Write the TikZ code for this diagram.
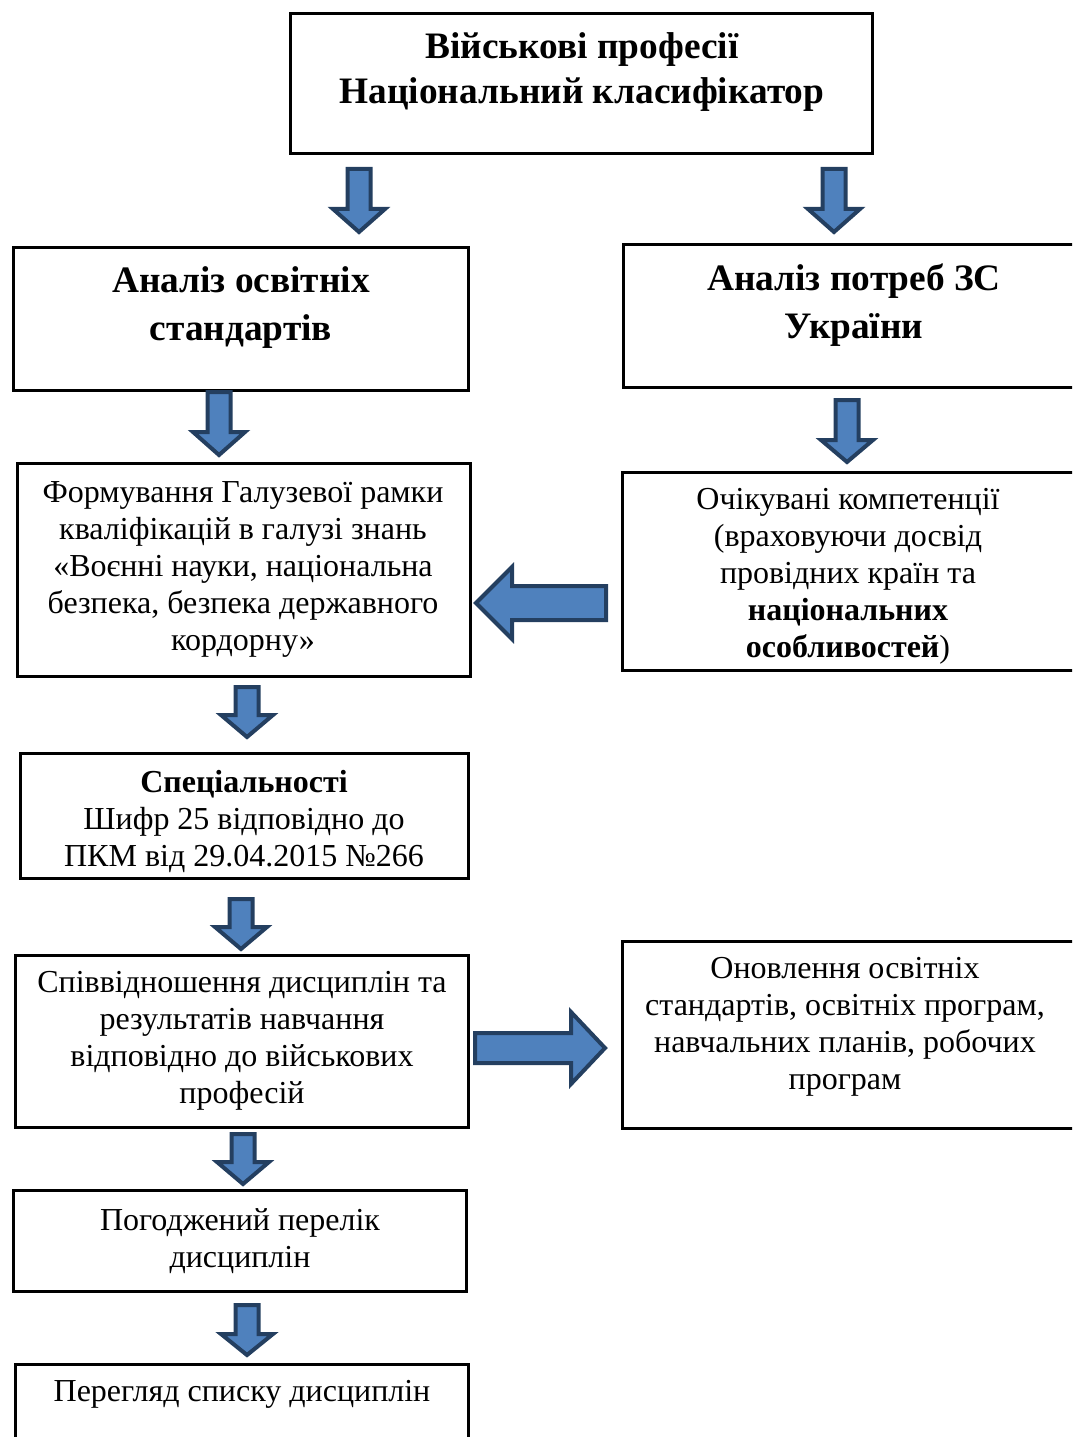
\documentclass[tikz,border=0pt]{standalone}
\usepackage{fontspec}
\setmainfont{Liberation Serif}
\usetikzlibrary{calc}
\definecolor{arrfill}{HTML}{4F81BD}
\definecolor{arrline}{HTML}{243F60}
\tikzset{
  box/.style={draw=black, line width=2.25pt, inner sep=0pt, outer sep=0pt, fill=white},
  txt/.style={align=center, inner sep=0pt, font=\fontsize{24}{27.75}\selectfont},
  hd/.style={align=center, inner sep=0pt, font=\fontsize{28}{36}\selectfont\bfseries},
  blockarrow/.style={draw=arrline, fill=arrfill, line width=3pt, line join=miter}
}
% vertical block arrow: start, tip, head length
\newcommand\DArr[3]{%
  \draw[blockarrow] ($(#1)+(-11.5,0)$) -- ($(#1)+(11.5,0)$) -- ($(#2)+(11.5,-#3)$)
    -- ($(#2)+(26,-#3)$) -- (#2) -- ($(#2)+(-26,-#3)$) -- ($(#2)+(-11.5,-#3)$) -- cycle;}
% horizontal block arrow: start, tip, signed head length, shaft half, head half
\newcommand\HArr[5]{%
  \draw[blockarrow] ($(#1)+(0,-#4)$) -- ($(#1)+(0,#4)$) -- ($(#2)+(#3,#4)$)
    -- ($(#2)+(#3,#5)$) -- (#2) -- ($(#2)+(#3,-#5)$) -- ($(#2)+(#3,-#4)$) -- cycle;}
\begin{document}
\begin{tikzpicture}[x=0.75pt, y=-0.75pt]
\useasboundingbox (0,0) rectangle (1072,1437);
\clip (0,0) rectangle (1072,1437);

% boxes
\node[box, minimum width=436.5pt, minimum height=105pt] (n1) at (581.5,83.5) {};
\node[box, minimum width=341.25pt, minimum height=107.25pt] (n2) at (241,319) {};
\node[box, minimum width=345.75pt, minimum height=107.25pt] (n3) at (854,316) {};
\node[box, minimum width=339.75pt, minimum height=159.75pt] (n4) at (244,570) {};
\node[box, minimum width=346.5pt, minimum height=148.5pt] (n5) at (853.5,571.5) {};
\node[box, minimum width=336pt, minimum height=93.75pt] (n6) at (244.5,816) {};
\node[box, minimum width=339.75pt, minimum height=129pt] (n7) at (242,1041.5) {};
\node[box, minimum width=346.5pt, minimum height=140.25pt] (n8) at (853.5,1035) {};
\node[box, minimum width=339.75pt, minimum height=75.75pt] (n9) at (240,1241) {};
\node[box, minimum width=339.75pt, minimum height=78pt] (n10) at (242,1416.5) {};

% texts
\node[hd, font=\fontsize{28}{33.75}\selectfont\bfseries] (t1) at (582,72) {Військові професії\\Національний класифікатор};
\node[hd] (t2) at (241,308) {Аналіз освітніх\\стандартів};
\node[hd] (t3) at (854,305) {Аналіз потреб ЗС\\України};
\node[txt] (t4) at (243,569) {Формування Галузевої рамки\\кваліфікацій в галузі знань\\«Воєнні науки, національна\\безпека, безпека державного\\кордорну»};
\node[txt] (t5) at (848,576) {Очікувані компетенції\\(враховуючи досвід\\провідних країн та\\\textbf{національних}\\\textbf{особливостей})};
\node[txt] (t6) at (244,821) {\textbf{Спеціальності}\\Шифр 25 відповідно до\\ПКМ від 29.04.2015 №266};
\node[txt] (t7) at (242,1041) {Співвідношення дисциплін та\\результатів навчання\\відповідно до військових\\професій};
\node[txt] (t8) at (845,1027) {Оновлення освітніх\\стандартів, освітніх програм,\\навчальних планів, робочих\\програм};
\node[txt] (t9) at (240,1241) {Погоджений перелік\\дисциплін};
\node[txt] (t10) at (242,1394) {Перегляд списку дисциплін};

% arrow coordinates
\coordinate (a1s) at (359,169);  \coordinate (a1t) at (359,232);
\coordinate (a2s) at (834,169);  \coordinate (a2t) at (834,232);
\coordinate (a3s) at (219,392);  \coordinate (a3t) at (219,455);
\coordinate (a4s) at (847,400);  \coordinate (a4t) at (847,462);
\coordinate (a6s) at (247,687);  \coordinate (a6t) at (247,737);
\coordinate (a7s) at (241,899);  \coordinate (a7t) at (241,949);
\coordinate (a9s) at (243,1134); \coordinate (a9t) at (243,1184);
\coordinate (a10s) at (247,1305); \coordinate (a10t) at (247,1355);
\coordinate (a5s) at (606,603);  \coordinate (a5t) at (476,603);
\coordinate (a8s) at (475,1048); \coordinate (a8t) at (605,1048);

\DArr{a1s}{a1t}{23}
\DArr{a2s}{a2t}{23}
\DArr{a3s}{a3t}{23}
\DArr{a4s}{a4t}{22}
\DArr{a6s}{a6t}{22}
\DArr{a7s}{a7t}{22}
\DArr{a9s}{a9t}{22}
\DArr{a10s}{a10t}{21}
\HArr{a5s}{a5t}{36}{17}{36}
\HArr{a8s}{a8t}{-34}{15}{36}
\end{tikzpicture}
\end{document}
